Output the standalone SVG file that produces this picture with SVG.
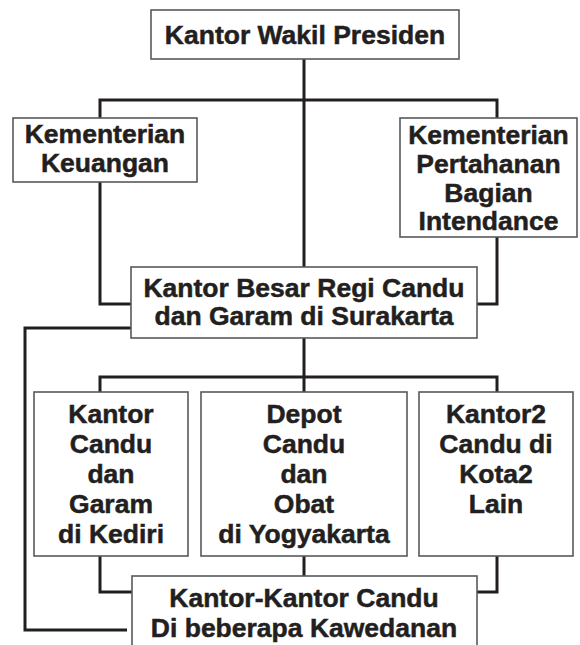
<svg xmlns="http://www.w3.org/2000/svg" width="580" height="645" viewBox="0 0 580 645">
<style>
.box{fill:#fff;stroke:#58595b;stroke-width:1.6}
.t{font-family:"Liberation Sans",Arial,sans-serif;font-weight:bold;font-size:26.5px;fill:#231f20;stroke:#231f20;stroke-width:0.5;text-anchor:middle}
.c{fill:none;stroke:#231f20;stroke-width:3;stroke-linejoin:miter}
</style>
<rect width="580" height="645" fill="#fff"/>
<g id="connectors">
<path class="c" d="M304 59V267"/>
<path class="c" d="M100 118V100H497V118"/>
<path class="c" d="M100 182V304H131"/>
<path class="c" d="M497 237V304H477"/>
<path class="c" d="M131 328H25V630H127"/>
<path class="c" d="M304 338V392"/>
<path class="c" d="M100 392V377H497V392"/>
<path class="c" d="M100 556V592H132"/>
<path class="c" d="M497 556V592H477"/>
<path class="c" d="M304 556V576"/>
</g>
<g id="wakil-presiden">
<rect class="box" x="151" y="10" width="308" height="49"/>
<text class="t" x="305" y="44">Kantor Wakil Presiden</text>
</g>
<g id="keuangan">
<rect class="box" x="13" y="118" width="184" height="64"/>
<text class="t" x="105" y="143">Kementerian</text>
<text class="t" x="105" y="172">Keuangan</text>
</g>
<g id="pertahanan">
<rect class="box" x="400" y="118" width="177" height="119"/>
<text class="t" x="488.5" y="144">Kementerian</text>
<text class="t" x="488.5" y="173">Pertahanan</text>
<text class="t" x="488.5" y="202">Bagian</text>
<text class="t" x="488.5" y="230">Intendance</text>
</g>
<g id="kantor-besar">
<rect class="box" x="131" y="267" width="346" height="71"/>
<text class="t" x="304" y="297">Kantor Besar Regi Candu</text>
<text class="t" x="304" y="325">dan Garam di Surakarta</text>
</g>
<g id="kediri">
<rect class="box" x="34" y="392" width="154" height="164"/>
<text class="t" x="111" y="423">Kantor</text>
<text class="t" x="111" y="453">Candu</text>
<text class="t" x="111" y="483">dan</text>
<text class="t" x="111" y="513">Garam</text>
<text class="t" x="111" y="543">di Kediri</text>
</g>
<g id="yogyakarta">
<rect class="box" x="201" y="392" width="206" height="164"/>
<text class="t" x="304" y="423">Depot</text>
<text class="t" x="304" y="453">Candu</text>
<text class="t" x="304" y="483">dan</text>
<text class="t" x="304" y="513">Obat</text>
<text class="t" x="304" y="543">di Yogyakarta</text>
</g>
<g id="kota-lain">
<rect class="box" x="419" y="392" width="154" height="164"/>
<text class="t" x="496" y="423">Kantor2</text>
<text class="t" x="496" y="453">Candu di</text>
<text class="t" x="496" y="483">Kota2</text>
<text class="t" x="496" y="513">Lain</text>
</g>
<g id="kawedanan">
<rect class="box" x="132" y="576" width="345" height="75"/>
<text class="t" x="304" y="607">Kantor-Kantor Candu</text>
<text class="t" x="304" y="637">Di beberapa Kawedanan</text>
</g>
</svg>
